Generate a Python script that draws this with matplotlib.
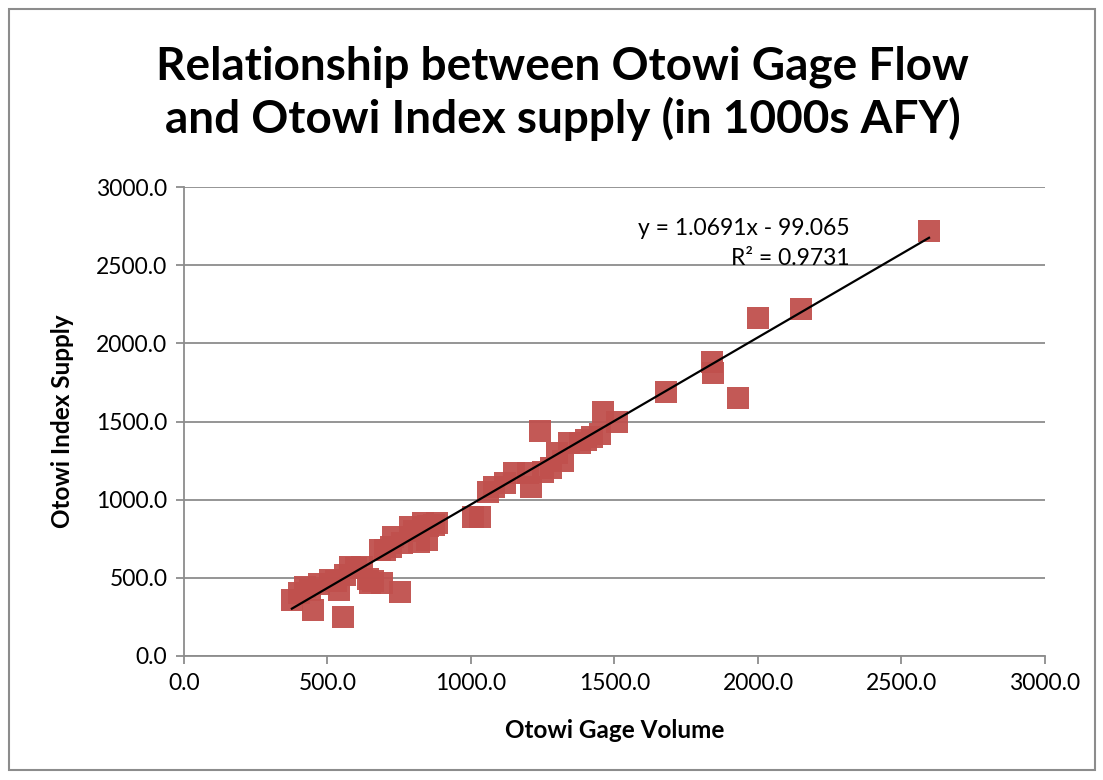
import matplotlib.pyplot as plt
import numpy as np
from matplotlib.patches import Rectangle

# Otowi gage volume vs index supply (1000s AFY)
gage = [376, 450, 554, 439, 509, 578, 648, 753, 683, 728, 787, 833, 881, 847,
        1007, 1030, 400, 420, 470, 530, 560, 600, 620, 660, 700, 720, 760, 800,
        820, 850, 870, 1060, 1080, 1120, 1150, 1200, 1210, 1240, 1250, 1280, 1300,
        1320, 1340, 1380, 1400, 1420, 1450, 1460, 1510, 1680, 1840, 1845, 1930,
        2000, 2150, 2596, 540, 640, 690]
supply = [358, 294, 250, 422, 486, 570, 467, 410, 678, 761, 825, 851, 851, 742,
          890, 890, 400, 440, 460, 480, 520, 560, 570, 480, 680, 700, 720, 800,
          730, 830, 840, 1050, 1080, 1110, 1170, 1170, 1080, 1440, 1180, 1200,
          1300, 1250, 1360, 1360, 1380, 1400, 1420, 1560, 1500, 1690, 1880, 1810,
          1650, 2160, 2220, 2720, 420, 490, 470]

slope, intercept = 1.0691, -99.065

fig = plt.figure(figsize=(11.03, 7.80), dpi=100)
fig.patches.append(Rectangle((0.008, 0.013), 0.985, 0.976, transform=fig.transFigure,
                             fill=False, edgecolor='#8c8c8c', linewidth=1.5))
ax = fig.add_axes([0.1668, 0.159, 0.7806, 0.601])

ax.plot(gage, supply, 's', color='#c0504d', markersize=16, alpha=0.95,
        markeredgewidth=0, zorder=3)
xs = np.array([min(gage), max(gage)])
ax.plot(xs, slope * xs + intercept, color='black', linewidth=1.6, zorder=4)

ax.set_xlim(0, 3000)
ax.set_ylim(0, 3000)
ax.set_xticks(np.arange(0, 3001, 500))
ax.set_yticks(np.arange(0, 3001, 500))
ax.xaxis.set_major_formatter(plt.FuncFormatter(lambda v, p: f'{v:.1f}'))
ax.yaxis.set_major_formatter(plt.FuncFormatter(lambda v, p: f'{v:.1f}'))
ax.grid(axis='y', color='#8c8c8c', linewidth=1.3)
ax.set_axisbelow(True)
for s in ['top', 'right']:
    ax.spines[s].set_visible(False)
for s in ['left', 'bottom']:
    ax.spines[s].set_color('#8c8c8c')
    ax.spines[s].set_linewidth(1.3)
ax.tick_params(axis='both', labelsize=16.5, color='#8c8c8c', length=6, width=1.3,
               direction='out', pad=6)
for lab in ax.get_xticklabels() + ax.get_yticklabels():
    lab.set_fontfamily('Lato')

ax.set_xlabel('Otowi Gage Volume', fontsize=17.5, fontweight='bold', family='Lato', labelpad=18)
ax.set_ylabel('Otowi Index Supply', fontsize=17.5, fontweight='bold', family='Lato', labelpad=16)

ax.text(2320, 2738, 'y = 1.0691x - 99.065', fontsize=16.5, family='Lato', ha='right', va='center')
ax.text(2320, 2546, 'R² = 0.9731', fontsize=16.5, family='Lato', ha='right', va='center')

fig.text(0.51, 0.88, 'Relationship between Otowi Gage Flow\nand Otowi Index supply (in 1000s AFY)',
         ha='center', va='center', fontsize=33, fontweight='bold', family='Lato',
         linespacing=1.25)

fig.savefig('out.png', dpi=100)
